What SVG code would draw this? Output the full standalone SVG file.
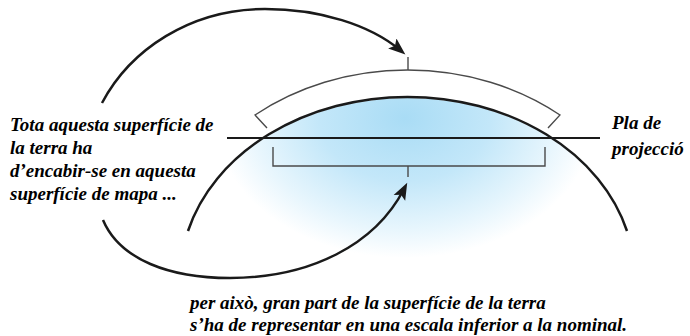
<svg xmlns="http://www.w3.org/2000/svg" width="690" height="336" viewBox="0 0 690 336">
<defs>
<radialGradient id="blue" cx="405" cy="118" r="1" gradientUnits="userSpaceOnUse" gradientTransform="translate(405 118) scale(190 140) translate(-405 -118)" fx="405" fy="118">
<stop offset="0" stop-color="#a9dcf5"/>
<stop offset="0.45" stop-color="#c3e7f9"/>
<stop offset="0.8" stop-color="#e8f6fd"/>
<stop offset="1" stop-color="#ffffff"/>
</radialGradient>
<clipPath id="earthClip"><ellipse cx="407.5" cy="278" rx="227" ry="180"/></clipPath>
<marker id="arr" markerUnits="userSpaceOnUse" markerWidth="20" markerHeight="16" refX="10" refY="0" viewBox="0 -8 20 16" orient="auto">
<path d="M0,-6.5 L17,0 L0,6.5 L3.5,0 z" fill="#1a1a1a"/>
</marker>
</defs>
<rect width="690" height="336" fill="#ffffff"/>
<g id="earth">
<rect x="180" y="90" width="460" height="200" fill="url(#blue)" clip-path="url(#earthClip)"/>
<path d="M188,231 A227,180 0 0 1 627,231" fill="none" stroke="#1a1a1a" stroke-width="2.5"/>
</g>
<g id="plane">
<path d="M227,138 H600" fill="none" stroke="#1a1a1a" stroke-width="2"/>
</g>
<g id="upper-bracket" fill="none" stroke="#4a4a4a" stroke-width="1.4">
<path d="M267,128 L255,115 A245.5,208 0 0 1 560,115 L548,128"/>
<path d="M408,70 V57"/>
</g>
<g id="lower-bracket" fill="none" stroke="#4a4a4a" stroke-width="1.4">
<path d="M273,147 V166 H545 V147"/>
<path d="M408,166 V177"/>
</g>
<g id="connectors" fill="none" stroke="#1a1a1a" stroke-width="2.5">
<path d="M102,103 C130,50 190,9 265,9 C320,9 370,25 400,50" marker-end="url(#arr)"/>
<path d="M103,220 C120,260 170,278 230,278 C310,278 375,245 404,189" marker-end="url(#arr)"/>
</g>
<g id="caption-left">
<text x="10" y="131" font-family="Liberation Serif" font-weight="bold" font-style="italic" font-size="19">Tota aquesta superfície de</text>
<text x="10" y="154" font-family="Liberation Serif" font-weight="bold" font-style="italic" font-size="19">la terra ha</text>
<text x="10" y="177" font-family="Liberation Serif" font-weight="bold" font-style="italic" font-size="19">d’encabir-se en aquesta</text>
<text x="10" y="200" font-family="Liberation Serif" font-weight="bold" font-style="italic" font-size="19">superfície de mapa ...</text>
</g>
<g id="caption-right">
<text x="612" y="129" font-family="serif" font-weight="bold" font-style="italic" font-size="19">Pla de</text>
<text x="612" y="155" font-family="serif" font-weight="bold" font-style="italic" font-size="19">projecció</text>
</g>
<g id="caption-bottom">
<text x="190" y="309" font-family="Times New Roman" font-weight="bold" font-style="italic" font-size="19">per això, gran part de la superfície de la terra</text>
<text x="190" y="331" font-family="Times New Roman" font-weight="bold" font-style="italic" font-size="19">s’ha de representar en una escala inferior a la nominal.</text>
</g>
</svg>
